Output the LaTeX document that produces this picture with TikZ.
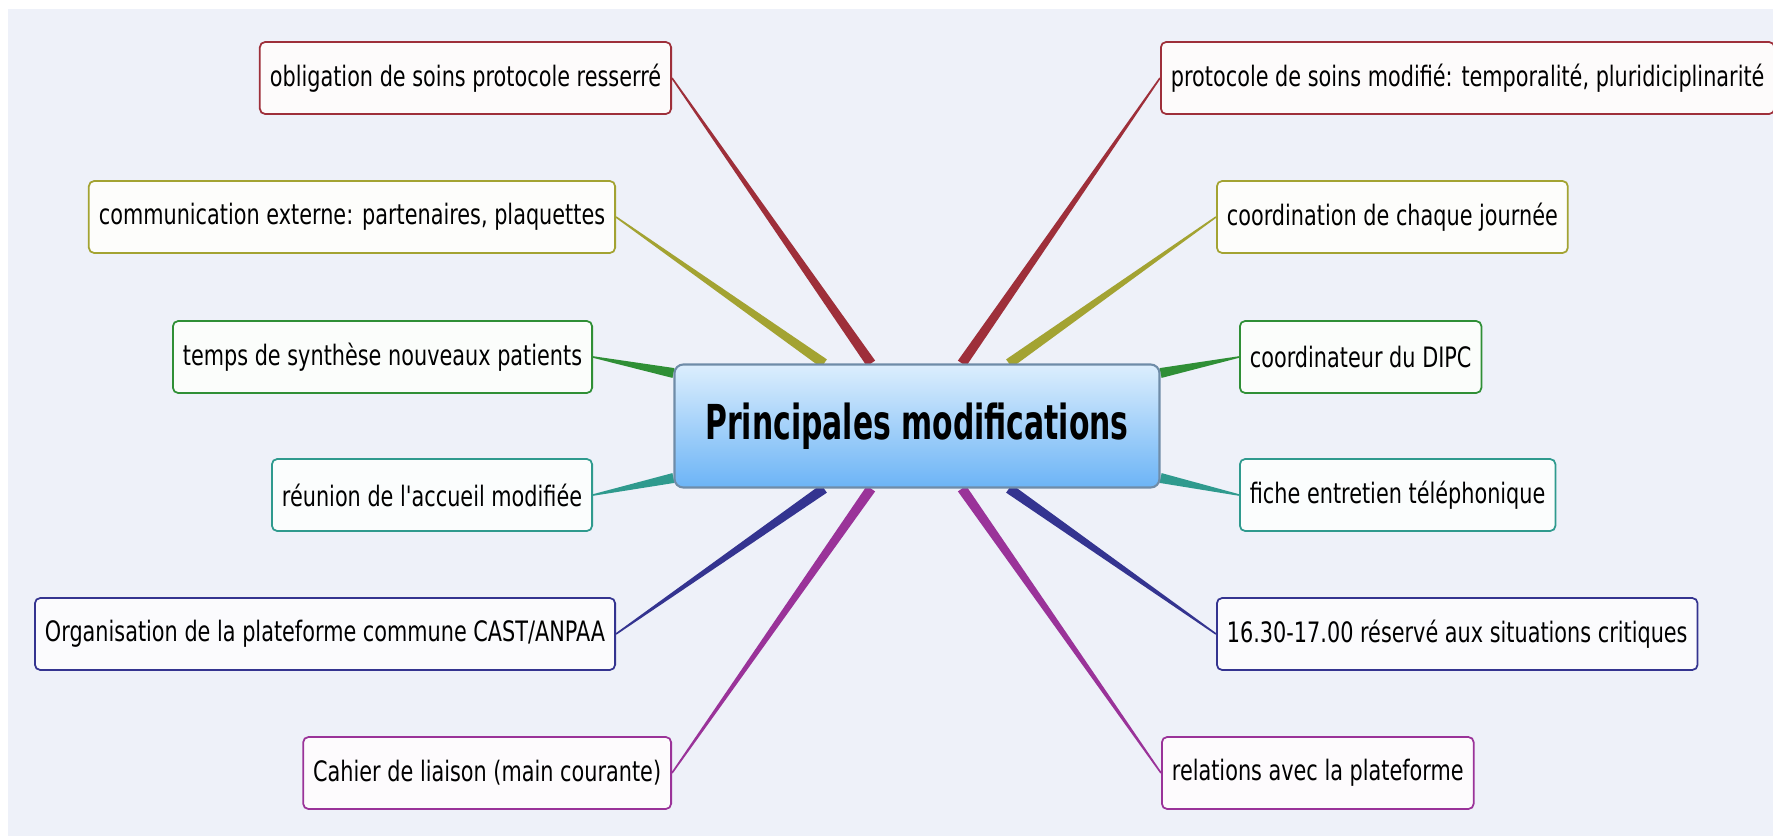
\documentclass[tikz,border=0pt]{standalone}
\usepackage{fontspec}
\usetikzlibrary{calc,backgrounds}
\newfontfamily\leaffont{DejaVu Sans}[FakeStretch=0.74]
\newfontfamily\hubfont{DejaVu Sans}[FakeStretch=0.62]

\definecolor{bgblue}{HTML}{EEF1F9}
\definecolor{cred}{HTML}{9E2F3A}
\definecolor{colive}{HTML}{A3A332}
\definecolor{cgreen}{HTML}{2F8F36}
\definecolor{cteal}{HTML}{2F9A8E}
\definecolor{cnavy}{HTML}{343490}
\definecolor{cpurple}{HTML}{9A3399}
\definecolor{hubtop}{HTML}{DCEEFD}
\definecolor{hubbot}{HTML}{6CB4F6}
\definecolor{hubline}{HTML}{6F8CA8}

\tikzset{
  leaf/.style={draw=#1, line width=0.5pt, fill=#1!2, rounded corners=1.5pt,
    minimum height=7.2mm, inner xsep=1mm,
    font=\leaffont\fontsize{8pt}{9.5pt}\selectfont},
  hub/.style={draw=hubline, line width=0.6pt, rounded corners=2.5pt,
    top color=hubtop, bottom color=hubbot,
    minimum width=48.5mm, minimum height=12.3mm,
    font=\hubfont\bfseries\fontsize{13.7pt}{16pt}\selectfont},
}

% tapered branch: #1 hub end, #2 leaf end, #3 colour
\newcommand\branch[3]{%
  \fill[#3] ($(#1)!0.5mm!90:(#2)$) -- ($(#2)!0.08mm!-90:(#1)$)
    -- ($(#2)!0.08mm!90:(#1)$) -- ($(#1)!0.5mm!-90:(#2)$) -- cycle;}

\begin{document}
\begin{tikzpicture}[x=0.1mm, y=-0.1mm]
  \useasboundingbox (0,0) rectangle (1773,836);

  \node[hub] (hub) at (917,426) {Principales modifications};

  \node[leaf=cred, anchor=east] (obl) at (672,78) {obligation de soins protocole resserré};
  \node[leaf=colive, anchor=east] (com) at (616,217) {communication externe: partenaires, plaquettes};
  \node[leaf=cgreen, anchor=east] (syn) at (593,357) {temps de synthèse nouveaux patients};
  \node[leaf=cteal, anchor=east] (reu) at (593,495) {réunion de l'accueil modifiée};
  \node[leaf=cnavy, anchor=east] (org) at (616,634) {Organisation de la plateforme commune CAST/ANPAA};
  \node[leaf=cpurple, anchor=east] (cah) at (672,773) {Cahier de liaison (main courante)};

  \node[leaf=cred, anchor=west] (pro) at (1160,78) {protocole de soins modifié: temporalité, pluridiciplinarité};
  \node[leaf=colive, anchor=west] (crd) at (1216,217) {coordination de chaque journée};
  \node[leaf=cgreen, anchor=west] (dipc) at (1239,357) {coordinateur du DIPC};
  \node[leaf=cteal, anchor=west] (tel) at (1239,495) {fiche entretien téléphonique};
  \node[leaf=cnavy, anchor=west] (crit) at (1216,634) {16.30-17.00 réservé aux situations critiques};
  \node[leaf=cpurple, anchor=west] (pla) at (1161,773) {relations avec la plateforme};

  \coordinate (h1) at ($(hub.north)+(-46,0)$);
  \coordinate (h2) at ($(hub.north)+(-93,0)$);
  \coordinate (h3) at ($(hub.west)+(0,-53)$);
  \coordinate (h4) at ($(hub.west)+(0,52)$);
  \coordinate (h5) at ($(hub.south)+(-93,0)$);
  \coordinate (h6) at ($(hub.south)+(-46,0)$);
  \coordinate (h7) at ($(hub.north)+(45,0)$);
  \coordinate (h8) at ($(hub.north)+(92,0)$);
  \coordinate (h9) at ($(hub.east)+(0,-53)$);
  \coordinate (h10) at ($(hub.east)+(0,52)$);
  \coordinate (h11) at ($(hub.south)+(92,0)$);
  \coordinate (h12) at ($(hub.south)+(45,0)$);

  \begin{pgfonlayer}{background}
    \fill[white] (0,0) rectangle (1773,836);
    \fill[bgblue] (8,9) rectangle (1773,836);
    \branch{h1}{obl.east}{cred}
    \branch{h2}{com.east}{colive}
    \branch{h3}{syn.east}{cgreen}
    \branch{h4}{reu.east}{cteal}
    \branch{h5}{org.east}{cnavy}
    \branch{h6}{cah.east}{cpurple}
    \branch{h7}{pro.west}{cred}
    \branch{h8}{crd.west}{colive}
    \branch{h9}{dipc.west}{cgreen}
    \branch{h10}{tel.west}{cteal}
    \branch{h11}{crit.west}{cnavy}
    \branch{h12}{pla.west}{cpurple}
  \end{pgfonlayer}
\end{tikzpicture}
\end{document}
